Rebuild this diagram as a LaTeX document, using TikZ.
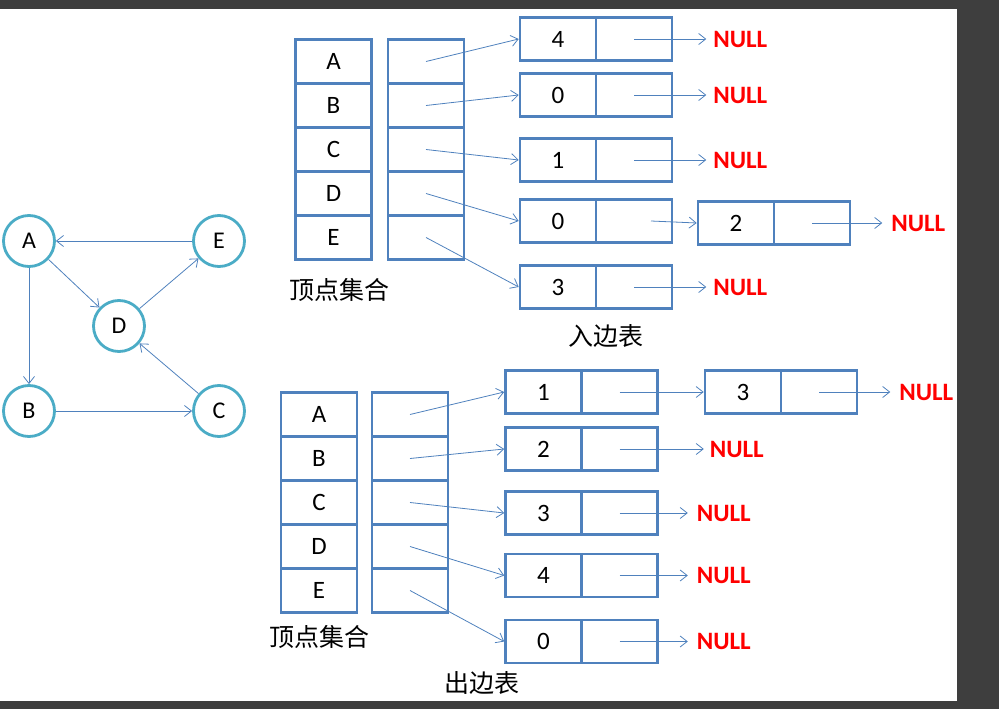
\documentclass[tikz,border=0pt]{standalone}
\usepackage{fontspec}
\setmainfont{Carlito}
\newfontfamily\cjk{Noto Sans CJK SC}
\usepackage{tikz}
\usetikzlibrary{
  arrows.meta,
  positioning,
  calc
}
\definecolor{cellblue}{RGB}{79,129,189}
\definecolor{ringteal}{RGB}{75,172,198}
\definecolor{nullred}{RGB}{255,0,0}
\definecolor{framegray}{RGB}{62,62,62}

\begin{document}
\begin{tikzpicture}[x=1pt, y=-1pt,
  vertex/.style={circle, draw=ringteal, line width=2.8pt, minimum size=51pt,
                 inner sep=0pt, font=\fontsize{24}{26}\selectfont},
  cell/.style={rectangle, draw=cellblue, line width=2.6pt, minimum width=76pt,
               minimum height=#1, inner sep=0pt, font=\fontsize{25}{27}\selectfont},
  cell/.default=44pt,
  link/.style={-{Straight Barb[length=7pt,width=11pt]}, draw=cellblue, line width=0.8pt},
  nullmark/.style={inner sep=0pt, outer xsep=7pt, text=nullred,
                   font=\fontsize{25}{27}\selectfont\bfseries},
  caption/.style={font=\cjk\fontsize{25}{27}\selectfont}
]
  \useasboundingbox (0,0) rectangle (999,709);

  % Screen frame
  \fill[framegray] (0,0) rectangle (999,9);
  \fill[framegray] (957,0) rectangle (999,709);
  \fill[framegray] (0,701) rectangle (999,709);

  % Graph
  \node[vertex] (A) at (29,241)  {A};
  \node[vertex] (E) at (219,241) {E};
  \node[vertex] (D) at (119,326) {D};
  \node[vertex] (B) at (29,411)  {B};
  \node[vertex] (C) at (219,411) {C};

  \draw[link] (E) -- (A);
  \draw[link] (A) -- (D);
  \draw[link] (D) -- (E);
  \draw[link] (A) -- (B);
  \draw[link] (B) -- (C);
  \draw[link] (C) -- (D);

  % In-edge lists
  \foreach \v/\d/\y [count=\i from 0] in {A/4/39, B/0/95, C/1/160, D/0/221, E/3/287} {
    \node[cell] (inV\v) at (333.5, 61.5+44*\i) {\v};
    \node[cell] (inP\v) at (426, 61.5+44*\i) {};
    \node[cell=43pt] (inD\v) at (558,\y) {\d};
    \node[cell=43pt] (inN\v) at (634,\y) {};
    \draw[link] (inP\v.center) -- (inD\v.west);
  }
  \node[cell=43pt] (inD2) at (736,223) {2};
  \node[cell=43pt] (inN2) at (812,223) {};
  \draw[link] ([xshift=17pt]inND.center) -- (inD2.west);

  \foreach \v in {A,B,C,E} {
    \node[nullmark, right=33pt of inN\v] (inNull\v) {NULL};
    \draw[link] (inN\v.center) -- (inNull\v.west);
  }
  \node[nullmark, outer xsep=9pt, right=31pt of inN2] (inNull2) {NULL};
  \draw[link] (inN2.center) -- (inNull2.west);

  \node[caption] (inCap) at (339.5,290) {顶点集合};
  \node[caption] (inTitle) at (605.5,336) {入边表};

  % Out-edge lists
  \foreach \v/\d/\y [count=\i from 0] in {A/1/392, B/2/449, C/3/513, D/4/575.5, E/0/641.5} {
    \node[cell] (outV\v) at (319, 414.5+44*\i) {\v};
    \node[cell] (outP\v) at (410, 414.5+44*\i) {};
    \node[cell=43pt] (outD\v) at (543.5,\y) {\d};
    \node[cell=43pt] (outN\v) at (619.5,\y) {};
    \draw[link] (outP\v.center) -- (outD\v.west);
  }
  \node[cell=43pt] (outD3) at (743,392) {3};
  \node[cell=43pt] (outN3) at (819,392) {};
  \draw[link] (outNA.center) -- (outD3.west);

  \node[nullmark, outer xsep=6pt, right=45pt of outNB] (outNullB) {NULL};
  \draw[link] (outNB.center) -- (outNullB.west);
  \foreach \v in {C,D,E} {
    \node[nullmark, outer xsep=9pt, right=29pt of outN\v] (outNull\v) {NULL};
    \draw[link] (outN\v.center) -- (outNull\v.west);
  }
  \node[nullmark, outer xsep=9pt, right=32pt of outN3] (outNull3) {NULL};
  \draw[link] (outN3.center) -- (outNull3.west);

  \node[caption] (outCap) at (319,637) {顶点集合};
  \node[caption] (outTitle) at (482,683) {出边表};
\end{tikzpicture}
\end{document}
